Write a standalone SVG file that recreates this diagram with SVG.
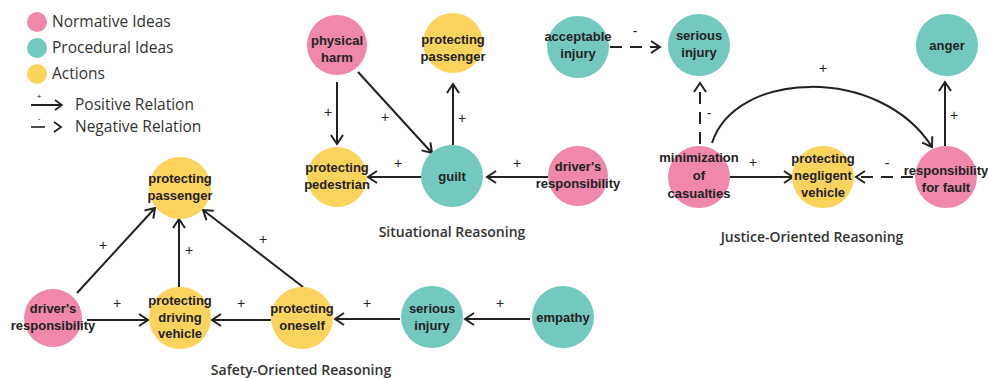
<svg xmlns="http://www.w3.org/2000/svg" width="988" height="379" viewBox="0 0 988 379">
<style>
.n{fill:#ef88aa}.p{fill:#74c9bf}.a{fill:#fcd35c}
.t{font-family:"Liberation Sans",Arial,sans-serif;font-weight:bold;font-size:13px;fill:#222;text-anchor:middle}
.e{stroke:#222;stroke-width:2;fill:none}
.neg{stroke-dasharray:12 8}
.l{font-family:"Liberation Sans",Arial,sans-serif;font-size:14px;fill:#222;text-anchor:middle}
.lg{font-family:"Open Sans","Liberation Sans",sans-serif;font-size:15.5px;fill:#333}
.ti{font-family:"Open Sans","Liberation Sans",sans-serif;font-weight:600;font-size:14px;fill:#333;text-anchor:middle}
</style>
<defs>
<marker id="ar" markerUnits="userSpaceOnUse" markerWidth="14" markerHeight="16" refX="11" refY="7" orient="auto" viewBox="0 0 14 14">
<path d="M2,1 L11,7 L2,13" fill="none" stroke="#222" stroke-width="2"/>
</marker>
</defs>
<rect width="988" height="379" fill="#fff"/>
<g id="legend">
<circle class="n" cx="37" cy="22" r="10"/>
<circle class="p" cx="37" cy="48" r="10"/>
<circle class="a" cx="37" cy="74" r="10"/>
<text class="lg" x="52" y="27">Normative Ideas</text>
<text class="lg" x="52" y="53">Procedural Ideas</text>
<text class="lg" x="52" y="79">Actions</text>
<line class="e" x1="31" y1="105" x2="62" y2="105" stroke-width="1.6"/>
<path d="M55,100 L62,105 L55,110" fill="none" stroke="#222" stroke-width="1.6"/>
<text x="39" y="99" style="font-family:'Liberation Sans',sans-serif;font-size:8px;fill:#222" text-anchor="middle">+</text>
<text class="lg" x="75" y="110">Positive Relation</text>
<line x1="31" y1="127" x2="45" y2="127" stroke="#222" stroke-width="1.6"/>
<path d="M54,122 L61,127 L54,132" fill="none" stroke="#222" stroke-width="1.8"/>
<text x="39" y="121" style="font-family:'Liberation Sans',sans-serif;font-size:8px;fill:#222" text-anchor="middle">-</text>
<text class="lg" x="75" y="132">Negative Relation</text>
</g>
<g id="connectors">
<line class="e" x1="337" y1="82" x2="337" y2="144" marker-end="url(#ar)"/>
<line class="e" x1="358" y1="72" x2="432" y2="153" marker-end="url(#ar)"/>
<line class="e" x1="453" y1="145" x2="453" y2="84" marker-end="url(#ar)"/>
<line class="e" x1="422" y1="177" x2="368" y2="177" marker-end="url(#ar)"/>
<line class="e" x1="548" y1="177" x2="487" y2="177" marker-end="url(#ar)"/>
<line class="e neg" x1="610" y1="47" x2="660" y2="47" marker-end="url(#ar)"/>
<line class="e neg" x1="700" y1="144" x2="700" y2="83" marker-end="url(#ar)"/>
<path class="e" d="M712,143 C735,70 880,65 932,147" marker-end="url(#ar)"/>
<line class="e" x1="730" y1="177" x2="793" y2="177" marker-end="url(#ar)"/>
<line class="e neg" x1="913" y1="177" x2="856" y2="177" marker-end="url(#ar)"/>
<line class="e" x1="945" y1="146" x2="945" y2="82" marker-end="url(#ar)"/>
<line class="e" x1="77" y1="293" x2="155" y2="208" marker-end="url(#ar)"/>
<line class="e" x1="179" y1="287" x2="179" y2="219" marker-end="url(#ar)"/>
<line class="e" x1="303" y1="287" x2="203" y2="210" marker-end="url(#ar)"/>
<line class="e" x1="87" y1="320" x2="148" y2="320" marker-end="url(#ar)"/>
<line class="e" x1="271" y1="320" x2="212" y2="320" marker-end="url(#ar)"/>
<line class="e" x1="400" y1="319" x2="335" y2="319" marker-end="url(#ar)"/>
<line class="e" x1="530" y1="319" x2="465" y2="319" marker-end="url(#ar)"/>
<text class="l" x="328" y="117">+</text>
<text class="l" x="385" y="122">+</text>
<text class="l" x="462" y="123">+</text>
<text class="l" x="398" y="168">+</text>
<text class="l" x="517" y="168">+</text>
<text class="l" x="635" y="36">-</text>
<text class="l" x="709" y="118">-</text>
<text class="l" x="823" y="73">+</text>
<text class="l" x="753" y="167">+</text>
<text class="l" x="887" y="168">-</text>
<text class="l" x="954" y="120">+</text>
<text class="l" x="103" y="250">+</text>
<text class="l" x="189" y="255">+</text>
<text class="l" x="263" y="244">+</text>
<text class="l" x="117" y="308">+</text>
<text class="l" x="241" y="308">+</text>
<text class="l" x="367" y="308">+</text>
<text class="l" x="500" y="308">+</text>
</g>
<g id="sit_physical_harm"><circle class="n" cx="337" cy="45" r="30"/><text class="t" x="337" y="45">physical</text><text class="t" x="337" y="62">harm</text></g>
<g id="sit_protecting_passenger"><circle class="a" cx="453" cy="43" r="30"/><text class="t" x="453" y="44">protecting</text><text class="t" x="453" y="61">passenger</text></g>
<g id="sit_protecting_pedestrian"><circle class="a" cx="337" cy="177" r="30"/><text class="t" x="337" y="172">protecting</text><text class="t" x="337" y="189">pedestrian</text></g>
<g id="sit_guilt"><circle class="p" cx="452" cy="176" r="31"/><text class="t" x="452" y="181">guilt</text></g>
<g id="drivers_responsibility_mid"><circle class="n" cx="578" cy="176" r="30"/><text class="t" x="578" y="171">driver's</text><text class="t" x="578" y="188">responsibility</text></g>
<g id="acceptable_injury"><circle class="p" cx="578" cy="47" r="31"/><text class="t" x="578" y="41">acceptable</text><text class="t" x="578" y="58">injury</text></g>
<g id="jus_serious_injury"><circle class="p" cx="699" cy="45" r="31"/><text class="t" x="699" y="40">serious</text><text class="t" x="699" y="57">injury</text></g>
<g id="jus_anger"><circle class="p" cx="947" cy="45" r="31"/><text class="t" x="947" y="50">anger</text></g>
<g id="jus_minimization"><circle class="n" cx="699" cy="177" r="31"/><text class="t" x="699" y="162">minimization</text><text class="t" x="699" y="180">of</text><text class="t" x="699" y="198">casualties</text></g>
<g id="jus_protecting_negligent"><circle class="a" cx="823" cy="177" r="31"/><text class="t" x="823" y="163">protecting</text><text class="t" x="823" y="180">negligent</text><text class="t" x="823" y="197">vehicle</text></g>
<g id="jus_responsibility_fault"><circle class="n" cx="946" cy="177" r="31"/><text class="t" x="946" y="175">responsibility</text><text class="t" x="946" y="192">for fault</text></g>
<g id="saf_protecting_passenger"><circle class="a" cx="180" cy="188" r="31"/><text class="t" x="180" y="183">protecting</text><text class="t" x="180" y="200">passenger</text></g>
<g id="saf_drivers_responsibility"><circle class="n" cx="53" cy="318" r="29"/><text class="t" x="53" y="313">driver's</text><text class="t" x="53" y="330">responsibility</text></g>
<g id="saf_protecting_driving_vehicle"><circle class="a" cx="180" cy="318" r="31"/><text class="t" x="180" y="305">protecting</text><text class="t" x="180" y="322">driving</text><text class="t" x="180" y="338">vehicle</text></g>
<g id="saf_protecting_oneself"><circle class="a" cx="302" cy="318" r="31"/><text class="t" x="302" y="313">protecting</text><text class="t" x="302" y="330">oneself</text></g>
<g id="saf_serious_injury"><circle class="p" cx="432" cy="317" r="31"/><text class="t" x="432" y="313">serious</text><text class="t" x="432" y="330">injury</text></g>
<g id="saf_empathy"><circle class="p" cx="563" cy="317" r="31"/><text class="t" x="563" y="322">empathy</text></g>
<g id="titles">
<text class="ti" x="452" y="237">Situational Reasoning</text>
<text class="ti" x="812" y="242">Justice-Oriented Reasoning</text>
<text class="ti" x="301" y="375">Safety-Oriented Reasoning</text>
</g>
</svg>
